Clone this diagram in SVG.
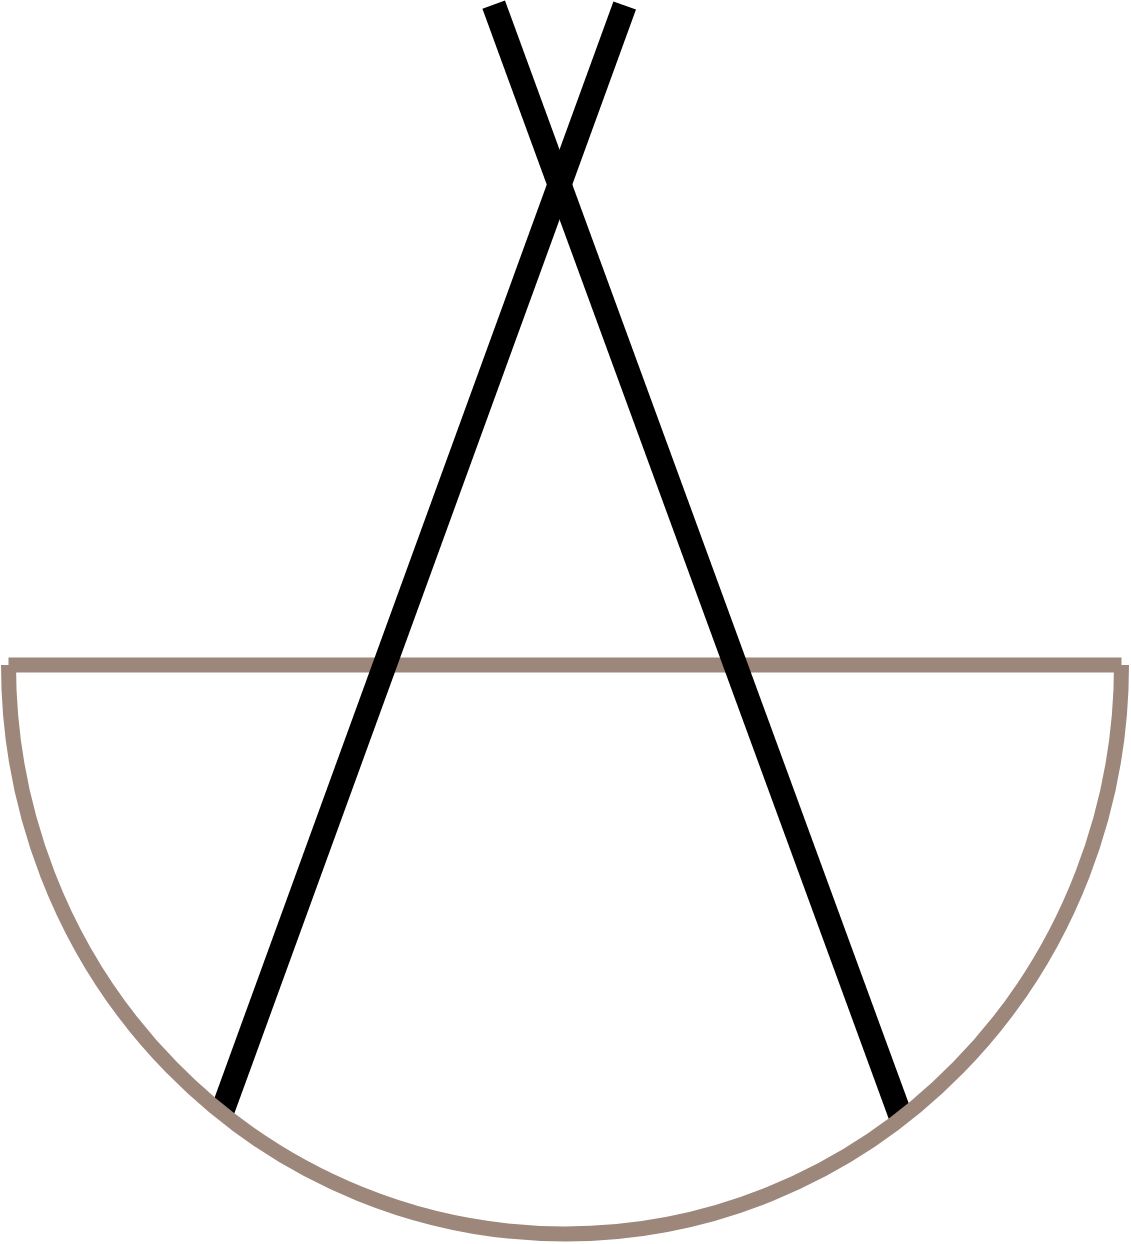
<svg xmlns="http://www.w3.org/2000/svg" width="1131" height="1244" viewBox="0 0 1131 1244">
  <style>
    .bowl { fill: none; stroke: #9d877a; stroke-width: 15; stroke-linecap: butt; }
    .stick { fill: none; stroke: #000000; stroke-width: 24; stroke-linecap: butt; }
  </style>
  <defs>
    <clipPath id="inside">
      <path d="M -10 -10 H 1141 V 665 H 1121.5 A 556.5 569 0 0 1 8.5 665 H -10 Z"/>
    </clipPath>
  </defs>
  <rect width="1131" height="1244" fill="#ffffff"/>
  <g id="rim">
    <line class="bowl" x1="8.5" y1="665" x2="1121.5" y2="665"/>
  </g>
  <g id="sticks" clip-path="url(#inside)">
    <line id="stick-right" class="stick" x1="493.7" y1="4.7" x2="902" y2="1120"/>
    <line id="stick-left" class="stick" x1="624.7" y1="5.5" x2="221" y2="1115"/>
  </g>
  <g id="bowl">
    <path class="bowl" d="M 8.5 665 A 556.5 569 0 0 0 1121.5 665"/>
  </g>
</svg>
